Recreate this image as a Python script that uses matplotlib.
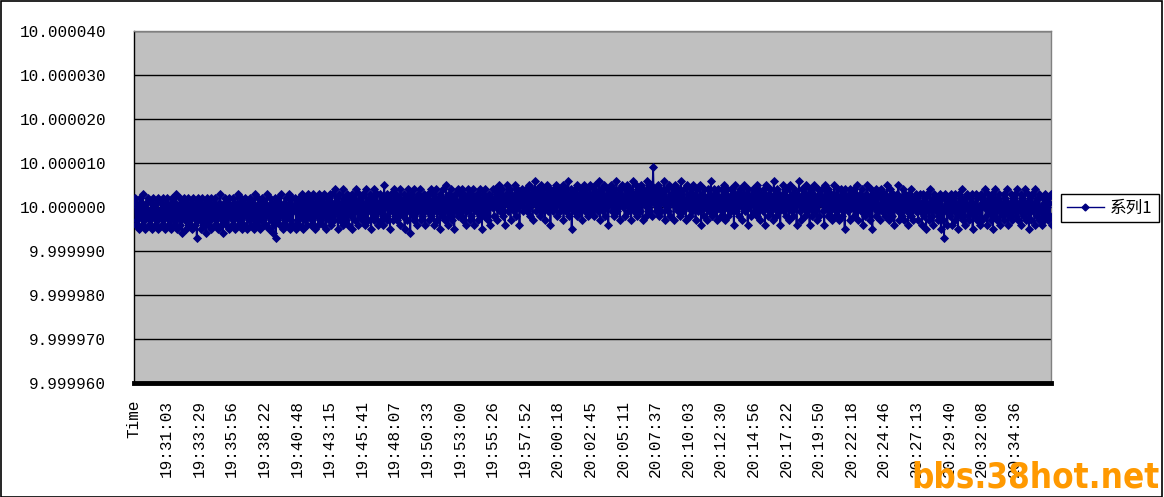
import numpy as np
import matplotlib
matplotlib.use("Agg")
import matplotlib.pyplot as plt
from matplotlib.patches import Rectangle
from matplotlib.lines import Line2D

# ---- data -------------------------------------------------------------
# category labels shown on the x axis (one label every 40 samples here)
x_labels = ["Time", "19:31:03", "19:33:29", "19:35:56", "19:38:22", "19:40:48",
            "19:43:15", "19:45:41", "19:48:07", "19:50:33", "19:53:00",
            "19:55:26", "19:57:52", "20:00:18", "20:02:45", "20:05:11",
            "20:07:37", "20:10:03", "20:12:30", "20:14:56", "20:17:22",
            "20:19:50", "20:22:18", "20:24:46", "20:27:13", "20:29:40",
            "20:32:08", "20:34:36"]
samples_per_label = 40
base_value = 10.0
# deviations from 10 in units of 1e-6 (40 per label interval)
dev_00 = [2,-4,1,-3,0,-5,2,-2,1,-4,3,-3,0,-5,1,-2,2,-4,-1,-3,1,-5,2,-2,0,-4,1,-3,2,-5,-1,-2,1,-4,2,-3,0,-5,1,-2]
dev_01 = [2,-4,0,-3,1,-5,2,-1,-4,1,-3,3,-5,0,-2,2,-4,1,-6,0,2,-3,1,-5,-1,2,-4,0,-3,1,-5,2,-2,0,-4,1,-7,2,-3,0]
dev_02 = [1,-5,2,-3,0,-4,1,-6,2,-2,-4,1,-3,2,-5,0,-2,1,-4,2,-3,0,-5,1,-2,3,-4,0,-6,1,-3,2,-4,-1,1,-5,2,-2,0,-4]
dev_03 = [2,-3,1,-5,0,-2,3,-4,1,-3,2,-5,-1,1,-4,2,-2,0,-5,1,-3,2,-4,0,-2,1,-5,3,-3,0,-4,2,-1,-5,1,-3,2,-2,0,-4]
dev_04 = [1,-4,3,-2,0,-5,2,-3,1,-6,0,-4,2,-7,1,-3,2,-1,-4,3,-2,0,-5,1,-3,2,-4,0,-2,3,-5,1,-3,2,-4,0,-1,2,-5,1]
dev_05 = [-3,2,-4,1,-2,3,-5,0,2,-3,1,-4,3,-1,-2,2,-4,1,-3,3,0,-5,2,-2,1,-4,3,-1,-3,2,0,-4,3,-2,1,-5,2,-1,-3,3]
dev_06 = [0,-4,3,-2,1,-3,4,-1,2,-5,0,3,-3,1,-2,4,-4,2,0,-3,3,-1,-4,2,1,-2,3,-5,0,2,-3,4,-1,1,-4,3,-2,0,2,-3]
dev_07 = [3,-2,1,-4,4,0,-3,2,-1,3,-5,1,2,-3,4,-2,0,3,-4,1,-1,3,-3,2,0,-4,5,-2,1,3,-3,0,2,-5,3,-1,1,-3,4,-2]
dev_08 = [1,3,-3,0,2,-4,4,-1,1,-2,3,-5,2,0,-3,4,-1,2,-6,3,0,-2,4,-3,1,2,-4,3,-1,0,4,-3,2,-2,1,3,-4,0,2,-1]
dev_09 = [3,-3,1,4,-2,0,3,-4,2,-1,4,-3,1,2,-5,3,0,-2,4,-1,2,-3,5,0,-4,3,1,-2,4,-3,0,2,-5,3,-1,1,4,-2,0,3]
dev_10 = [-2,4,0,-3,3,1,-4,2,-1,4,0,-3,3,-2,1,4,-4,2,0,-1,3,-3,2,4,-2,1,-5,3,0,-2,4,-1,2,-3,3,1,-4,2,0,4]
dev_11 = [1,-2,4,0,3,-3,2,5,-1,3,0,4,-2,2,-4,3,1,5,-1,2,4,-3,3,0,2,-1,5,1,-2,4,0,3,-4,2,1,4,-1,3,0,2]
dev_12 = [4,-1,3,0,5,-2,2,4,-3,3,1,6,-1,2,4,0,3,-2,5,1,-1,4,2,-3,3,0,5,-1,2,4,-4,3,1,-1,4,2,0,5,-2,3]
dev_13 = [1,4,-1,3,0,5,-3,2,4,-1,3,0,6,-2,2,4,-5,3,1,-1,4,2,-2,5,0,3,-1,4,1,-3,3,5,0,-1,4,2,-2,3,0,5]
dev_14 = [-1,3,1,4,-2,5,0,3,-1,2,6,-3,4,1,-1,3,5,-2,2,0,4,-4,3,1,5,-1,2,4,-2,3,0,6,-1,2,4,-3,3,1,5,0]
dev_15 = [2,-2,4,1,5,-1,3,0,4,-3,2,6,-1,3,1,5,-2,4,0,3,-1,5,2,-3,4,1,3,-2,6,0,4,-1,2,5,-2,3,9,1,4,-1]
dev_16 = [3,0,5,-2,2,4,-1,3,1,6,-3,2,4,0,-1,5,2,-2,3,1,4,-3,2,5,0,3,-1,4,2,-2,6,0,3,-1,4,1,-3,2,5,0]
dev_17 = [3,-2,4,1,-1,5,0,3,-3,2,4,-1,2,0,5,-4,3,1,-2,4,0,2,-3,4,1,-1,3,6,-2,2,0,4,-1,3,-3,1,4,0,2,-2]
dev_18 = [4,-1,2,5,-3,3,0,4,-2,2,1,-1,4,0,3,-4,2,5,-1,3,0,-2,4,1,3,-3,2,0,5,-1,3,1,-4,4,0,2,-2,3,1,4]
dev_19 = [-1,3,0,5,-2,4,1,-3,3,0,2,-1,4,-4,2,5,0,-2,3,1,4,-1,2,-3,6,0,3,-2,4,1,-1,3,-4,2,0,5,-1,3,1,-2]
dev_20 = [4,0,2,-3,5,1,-1,3,-2,4,0,2,-4,3,1,6,-1,2,-3,4,0,3,-2,5,1,-1,3,0,-4,4,2,-2,3,0,5,-1,2,-3,4,1]
dev_21 = [-2,3,1,4,-1,2,-4,5,0,3,-2,4,1,-1,3,-3,2,0,5,-2,3,1,-1,4,-3,2,0,4,-2,3,1,-5,4,0,2,-1,3,-3,4,1]
dev_22 = [0,3,-2,4,1,-1,5,-3,2,0,3,-1,4,-4,2,1,-2,3,0,5,-1,2,-3,4,1,-5,3,0,2,-2,4,-1,3,0,-3,2,4,-1,1,3]
dev_23 = [-2,3,0,5,-1,2,-3,4,0,-2,3,1,-4,2,0,3,-1,5,-3,1,2,-2,4,0,-3,3,1,-1,2,-4,3,0,-2,4,1,-3,2,0,3,-1]
dev_24 = [2,-3,0,3,-1,1,-4,3,-2,0,2,-5,3,-1,1,-3,4,0,-2,2,-4,3,0,-1,2,-3,1,-2,3,-5,0,2,-3,-7,3,-1,1,-4,2,0]
dev_25 = [-2,3,0,-4,2,-1,3,-3,1,0,-5,3,-2,2,-1,4,-3,0,2,-4,1,3,-2,0,-3,2,-1,3,-5,1,0,-2,3,-3,2,-1,0,-4,3,1]
dev_26 = [-3,2,0,4,-2,1,-4,3,-1,0,2,-3,3,-5,1,-2,4,0,-3,2,-1,3,-4,1,0,-2,3,-3,2,-1,4,-4,1,0,-2,3,-3,2,-1,1]
dev_27 = [3,-2,0,4,-3,1,-1,3,-4,2,0,-2,4,-3,1,-1,3,-5,2,0,-3,3,-1,1,-4,4,0,-2,2,-3,3,-1,0,-4,2,1,-3,3,-2,0]
dev_28 = [2,-3,1,-2,3,-4]
series_name = "系列1"
y_ticks = [9.99996, 9.99997, 9.99998, 9.99999, 10.0, 10.00001, 10.00002, 10.00003, 10.00004]

# ---- build ----------------------------------------------------------------
devs = (dev_00 + dev_01 + dev_02 + dev_03 + dev_04 + dev_05 + dev_06 + dev_07 +
        dev_08 + dev_09 + dev_10 + dev_11 + dev_12 + dev_13 + dev_14 + dev_15 +
        dev_16 + dev_17 + dev_18 + dev_19 + dev_20 + dev_21 + dev_22 + dev_23 +
        dev_24 + dev_25 + dev_26 + dev_27 + dev_28)
values = base_value + np.array(devs, dtype=float) * 1e-6
idx = np.arange(1, len(values) + 1)   # index 0 is the "Time" header category

W, H = 1164, 497
fig = plt.figure(figsize=(W / 100, H / 100), dpi=100)
fig.patch.set_facecolor("white")
fig.patches.append(Rectangle((0.0005, 0.001), 0.998, 0.997, transform=fig.transFigure,
                             fill=False, edgecolor="black", lw=1.2))

ax = fig.add_axes([134 / W, 1 - 383 / H, 917 / W, 352 / H])
ax.set_facecolor("#C0C0C0")

navy = "#000080"
ax.plot(idx, values, color=navy, lw=1.3, marker="D", ms=4.3, mec=navy, mfc=navy,
        mew=0.6, label=series_name, zorder=3)

ax.set_ylim(y_ticks[0], y_ticks[-1])
ax.set_yticks(y_ticks)
ax.set_yticklabels([f"{v:.6f}" for v in y_ticks])
ax.yaxis.grid(True, color="black", lw=1.0, zorder=1)
ax.set_axisbelow(True)

n_span = 28.13 * samples_per_label
ax.set_xlim(0, n_span)
ax.set_xticks(np.arange(len(x_labels)) * samples_per_label)
ax.set_xticklabels(x_labels, rotation=90, ha="center", va="top")

mono = ["Liberation Mono", "DejaVu Sans Mono"]
ax.tick_params(axis="y", length=0, pad=20, labelsize=11.5, colors="black")
ax.tick_params(axis="x", length=0, pad=12, labelsize=11.5, colors="black")
for t in ax.get_yticklabels() + ax.get_xticklabels():
    t.set_family(mono)

for s in ["top", "right"]:
    ax.spines[s].set_color("#808080")
    ax.spines[s].set_linewidth(1.0)
ax.spines["left"].set_color("black")
ax.spines["left"].set_linewidth(1.0)
ax.spines["bottom"].set_color("black")
ax.spines["bottom"].set_linewidth(3.5)

handle = Line2D([], [], color=navy, lw=1.0, marker="D", ms=3.5, mfc=navy, mec=navy)
leg = fig.legend([handle], [series_name], loc="center left",
                 bbox_to_anchor=(1061 / W, 1 - 208 / H), frameon=True,
                 fancybox=False, edgecolor="black", framealpha=1,
                 prop={"family": ["Noto Sans CJK SC", "DejaVu Sans"], "size": 12},
                 handlelength=2.2, handletextpad=0.4, borderpad=0.35,
                 borderaxespad=0)
leg.get_frame().set_linewidth(1.0)

fig.text(1160 / W, 2 / H, "bbs.38hot.net", ha="right", va="bottom",
         color="#FF9900", fontsize=25, fontweight="bold", family="DejaVu Sans",
         fontstretch="condensed")

fig.savefig("out.png", dpi=100)
